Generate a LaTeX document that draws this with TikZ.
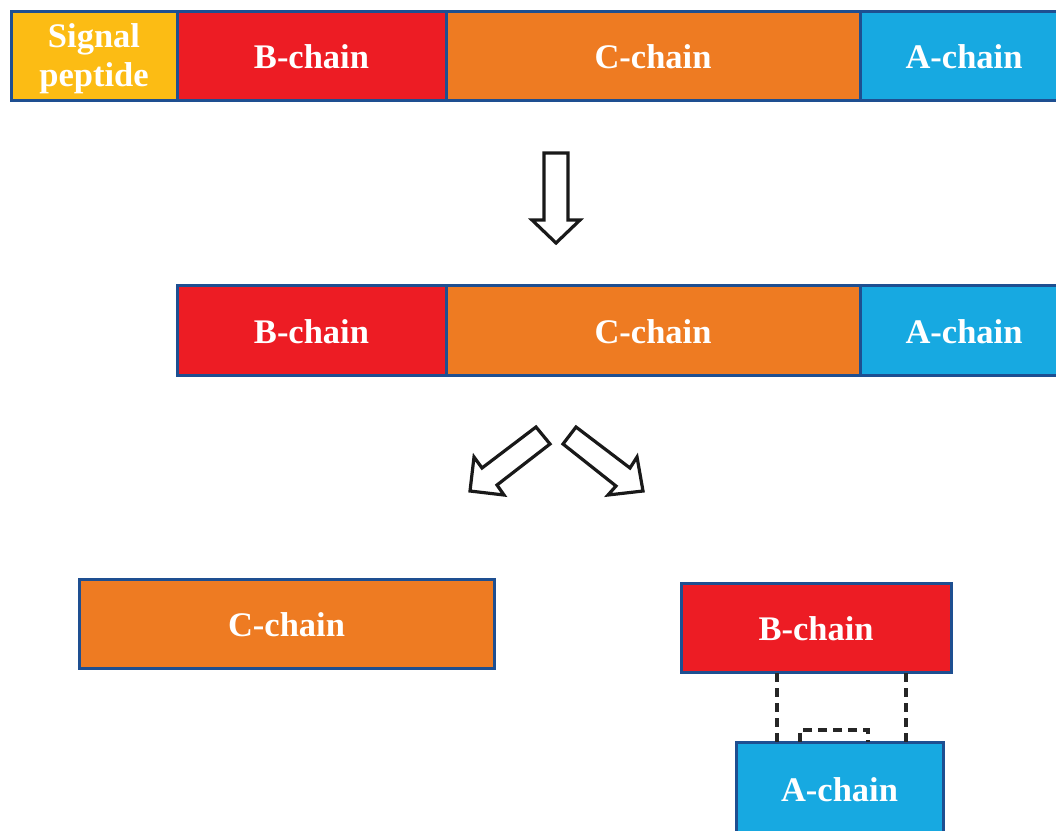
\documentclass[tikz,border=0pt]{standalone}
\usepackage{fontspec}
\setmainfont{Liberation Serif}
\definecolor{sigY}{HTML}{FCBC14}
\definecolor{bRed}{HTML}{ED1C24}
\definecolor{cOr}{HTML}{EE7B22}
\definecolor{aBlue}{HTML}{17A9E1}
\definecolor{edgeB}{HTML}{1E4F91}
\begin{document}
\begin{tikzpicture}[x=1pt,y=-1pt,
  seg/.style={draw=edgeB,line width=3pt,inner sep=0pt,outer sep=0pt,text=white,
    font=\fontsize{34.5}{39}\selectfont\bfseries,align=center,anchor=north west,
    text height=26pt,text depth=0pt},
  blockarrow/.style={draw=black!90,line width=3.2pt,fill=white,line join=miter},
  bond/.style={draw=black!85,line width=3.2pt,dash pattern=on 9pt off 6pt}]
\useasboundingbox (0,0) rectangle (1056,830);
% row 1
\node[seg,fill=sigY,minimum width=166pt,minimum height=89pt,text height=62pt,text depth=0pt] (sp) at (11,11) {Signal\\peptide};
\node[seg,fill=bRed,minimum width=269pt,minimum height=89pt] (b1) at (177,11) {B-chain};
\node[seg,fill=cOr,minimum width=414pt,minimum height=89pt] (c1) at (446,11) {C-chain};
\node[seg,fill=aBlue,minimum width=210pt,minimum height=89pt] (a1) at (860,11) {\hspace*{-2pt}A-chain};
% row 2
\node[seg,fill=bRed,minimum width=269pt,minimum height=90pt] (b2) at (177,285) {B-chain};
\node[seg,fill=cOr,minimum width=414pt,minimum height=90pt] (c2) at (446,285) {C-chain};
\node[seg,fill=aBlue,minimum width=210pt,minimum height=90pt] (a2) at (860,285) {\hspace*{-2pt}A-chain};
% row 3
\node[seg,fill=cOr,minimum width=415pt,minimum height=89pt] (c3) at (79,579) {C-chain};
\node[seg,fill=bRed,minimum width=270pt,minimum height=89pt] (b3) at (681,583) {B-chain};
\node[seg,fill=aBlue,minimum width=207pt,minimum height=100pt,text depth=7pt] (a3) at (736,742) {A-chain};
% arrows
\draw[blockarrow] (544,153) -- (568,153) -- (568,220) -- (580,220) -- (556,243) -- (532,220) -- (544,220) -- cycle;
\draw[blockarrow] (536,427) -- (550,444) -- (497,485) -- (504,495) -- (470,491) -- (474,457) -- (482,468) -- cycle;
\draw[blockarrow] (576,427) -- (563,444) -- (616,486) -- (608,495) -- (643,491) -- (637,457) -- (630,468) -- cycle;
% disulfide bonds
\coordinate (l1) at (777,673);
\coordinate (l2) at (777,742);
\coordinate (r1) at (906,673);
\coordinate (r2) at (906,742);
\draw[bond] (l1) -- (l2);
\draw[bond] (r1) -- (r2);
\draw[bond] (800,742) -- (800,730) -- (868,730) -- (868,742);
\end{tikzpicture}
\end{document}
